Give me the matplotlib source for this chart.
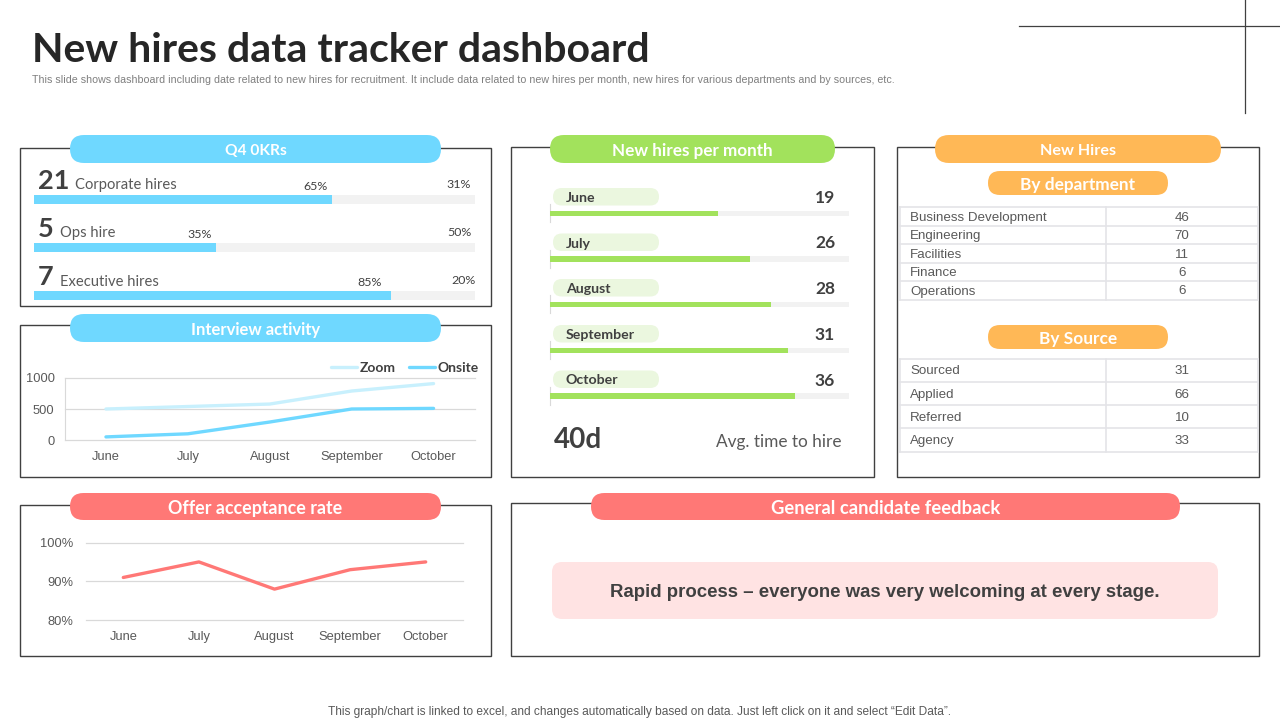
import matplotlib
matplotlib.use("Agg")
import matplotlib.pyplot as plt
from matplotlib.patches import FancyBboxPatch, Rectangle

W, H = 1280, 720
BODY = ["Liberation Sans", "DejaVu Sans"]
HEAD = ["Lato", "DejaVu Sans"]
DARK = "#404040"
BLUE, GREEN, ORANGE, RED = "#6FD8FF", "#A2E25C", "#FFB856", "#FF7876"

# ---------- data ----------
months = ["June", "July", "August", "September", "October"]
okr_counts = [21, 5, 7]
okr_names = ["Corporate hires", "Ops hire", "Executive hires"]
okr_fill = [67.6, 41.3, 81.0]
okr_labels = ["65%", "35%", "85%"]
okr_right = ["31%", "50%", "20%"]
zoom_vals = [500, 540, 580, 790, 910]
onsite_vals = [50, 100, 290, 500, 510]
offer_rate = [91, 95, 88, 93, 95]
month_hires = [19, 26, 28, 31, 36]
month_fill = [56.2, 66.9, 74.0, 79.6, 82.0]
dept_names = ["Business Development", "Engineering", "Facilities", "Finance", "Operations"]
dept_vals = [46, 70, 11, 6, 6]
source_names = ["Sourced", "Applied", "Referred", "Agency"]
source_vals = [31, 66, 10, 33]

fig = plt.figure(figsize=(W / 100, H / 100), dpi=100, facecolor="white")
bg = fig.add_axes([0, 0, 1, 1])
bg.set_xlim(0, W)
bg.set_ylim(H, 0)
bg.axis("off")


def px_axes(x0, y0, x1, y1):
    ax = fig.add_axes([x0 / W, 1 - y1 / H, (x1 - x0) / W, (y1 - y0) / H])
    ax.patch.set_alpha(0)
    return ax


def panel(x0, y0, x1, y1):
    bg.add_patch(Rectangle((x0 - 0.5, y0 - 0.5), x1 - x0, y1 - y0, fc="white", ec="#404040", lw=1.0, zorder=1))


def pill(x0, y0, x1, y1, color, label=None, size=12, zorder=3):
    h = y1 - y0
    bg.add_patch(FancyBboxPatch((x0, y0), x1 - x0, h, boxstyle=f"round,pad=0,rounding_size={h/2}",
                                fc=color, ec="none", zorder=zorder))
    if label:
        bg.text((x0 + x1) / 2, (y0 + y1) / 2 + 0.5, label, color="white", fontsize=size, fontweight="bold",
                family=HEAD, ha="center", va="center_baseline", zorder=zorder + 1)


# ---------- slide text and corner decoration ----------
bg.text(32, 47, "New hires data tracker dashboard", fontsize=29.5, fontweight="bold", color="#262626",
        family=HEAD, ha="left", va="center_baseline")
bg.text(32, 79, "This slide shows dashboard including date related to new hires for recruitment. It include data "
        "related to new hires per month, new hires for various departments and by sources, etc.",
        fontsize=7.62, color="#7F7F7F", family=BODY, ha="left", va="center_baseline")
bg.text(640, 711, "This graph/chart is linked to excel, and changes automatically based on data. Just left click "
        "on it and select \u201cEdit Data\u201d.", fontsize=8.59, color="#595959", family=BODY,
        ha="center", va="center_baseline")
bg.plot([1019, 1280], [26, 26], color="#404040", lw=0.9)
bg.plot([1245, 1245], [0, 113], color="#404040", lw=0.9)

# ---------- panels ----------
panel(20.5, 148, 491, 306.5)
panel(20.5, 325.5, 491, 477)
panel(511.5, 147.5, 874.5, 477.5)
panel(897.5, 147.5, 1259.5, 477.5)
panel(20.5, 505, 491, 656.5)
panel(511.5, 503.5, 1259.5, 656.5)

pill(70, 135, 441, 163, BLUE, "Q4 0KRs", 11.2)
pill(70, 314, 441, 342, BLUE, "Interview activity", 12)
pill(550, 135, 835, 163, GREEN, "New hires per month", 12.3)
pill(935, 135, 1221, 163, ORANGE, "New Hires", 11.6)
pill(988, 171, 1168, 195, ORANGE, "By department", 12.4)
pill(988, 325, 1168, 349, ORANGE, "By Source", 12.4)
pill(70, 493, 441, 520, RED, "Offer acceptance rate", 12.9)
pill(591, 493, 1180, 520, RED, "General candidate feedback", 13.2)

# ---------- Q4 OKRs ----------
okr_ax = px_axes(34, 171, 475, 304)
okr_ax.set_xlim(0, 100)
okr_ax.set_ylim(304, 171)
okr_ax.axis("off")
okr_y = [199.5, 247.5, 295.5]
okr_name_x = [75, 60, 60]
okr_label_x = [316, 200, 370]
okr_right_x = [459, 459, 463]
okr_ax.barh(okr_y, [100] * 3, height=9, color="#F2F2F2")
okr_ax.barh(okr_y, okr_fill, height=9, color=BLUE)
for i, y in enumerate(okr_y):
    bg.text(38, y - 20.5, str(okr_counts[i]), fontsize=19.5, fontweight="bold", color=DARK, family=HEAD,
            ha="left", va="center_baseline", zorder=5)
    bg.text(okr_name_x[i], y - 15.5, okr_names[i], fontsize=10.6, color="#595959", family=HEAD,
            ha="left", va="center_baseline", zorder=5)
    bg.text(okr_label_x[i], y - 14, okr_labels[i], fontsize=8.9, color=DARK, family=HEAD,
            ha="center", va="center_baseline", zorder=5)
    bg.text(okr_right_x[i], y - 15.5, okr_right[i], fontsize=8.9, color=DARK, family=HEAD,
            ha="center", va="center_baseline", zorder=5)


def style_line_axes(ax, left_spine):
    for s in ax.spines.values():
        s.set_visible(False)
    ax.grid(axis="y", color="#D9D9D9", lw=0.9)
    for g in ax.get_ygridlines():
        g.set_clip_on(False)
    ax.set_axisbelow(True)
    ax.tick_params(length=0, labelcolor="#595959")
    if left_spine:
        ax.spines["left"].set_visible(True)
        ax.spines["left"].set_color("#D9D9D9")
    for t in ax.get_xticklabels() + ax.get_yticklabels():
        t.set_family(BODY)
        t.set_fontsize(9.3)


# ---------- Interview activity ----------
iv = px_axes(65, 378, 474.5, 440)
iv.plot(range(5), zoom_vals, color="#C8F0FD", lw=2.4, label="Zoom", solid_capstyle="round")
iv.plot(range(5), onsite_vals, color=BLUE, lw=2.4, label="Onsite", solid_capstyle="round")
iv.set_xlim(-0.5, 4.5)
iv.set_ylim(0, 1000)
iv.set_xticks(range(5), months)
iv.set_yticks([0, 500, 1000])
style_line_axes(iv, True)
iv.tick_params(axis="x", pad=8)
iv.tick_params(axis="y", pad=7.5)
leg = iv.legend(loc="lower right", bbox_to_anchor=(479, 374), bbox_transform=bg.transData, ncol=2,
                frameon=False, handlelength=1.87, handletextpad=0.2, columnspacing=0.93, borderpad=0,
                borderaxespad=0, prop={"family": HEAD, "weight": "bold", "size": 10})
for t in leg.get_texts():
    t.set_color(DARK)

# ---------- Offer acceptance rate ----------
of = px_axes(85.5, 542.5, 463.5, 620.2)
of.plot(range(5), offer_rate, color=RED, lw=2.4, solid_capstyle="round")
of.set_xlim(-0.5, 4.5)
of.set_ylim(80, 100)
of.set_xticks(range(5), months)
of.set_yticks([80, 90, 100], ["80%", "90%", "100%"])
style_line_axes(of, False)
of.tick_params(axis="x", pad=7.5)
of.tick_params(axis="y", pad=8.5)

# ---------- New hires per month ----------
mh = px_axes(550, 185, 848.5, 405)
mh.set_xlim(0, 100)
mh.set_ylim(405, 185)
mh.axis("off")
bar_y = [213.5, 259, 304.5, 350.5, 396]
mh.barh(bar_y, [100] * 5, height=5.5, color="#F2F2F2")
mh.barh(bar_y, month_fill, height=5.5, color=GREEN)
for i, y in enumerate(bar_y):
    bg.plot([550, 550], [y - 9.5, y + 8.5], color="#D9D9D9", lw=0.8, zorder=2)
    pill(553, y - 25.5, 659, y - 8, "#EBF7DF", zorder=3)
    bg.text(566, y - 16.5, months[i], fontsize=10.2, fontweight="bold", color=DARK, family=HEAD,
            ha="left", va="center_baseline", zorder=5)
    bg.text(825, y - 17, str(month_hires[i]), fontsize=12.5, fontweight="bold", color=DARK, family=HEAD,
            ha="center", va="center_baseline", zorder=5)
bg.text(554, 437, "40d", fontsize=20, fontweight="bold", color=DARK, family=HEAD,
        ha="left", va="center_baseline", zorder=5)
bg.text(716, 440, "Avg. time to hire", fontsize=12.4, color="#595959", family=HEAD,
        ha="left", va="center_baseline", zorder=5)


# ---------- tables ----------
def table(rows, names, vals):
    x0, xm, x1 = 899.5, 1106, 1258
    for y in rows:
        bg.plot([x0, x1], [y, y], color="#E4E4E8", lw=1.2, zorder=2)
    for x in (x0, xm, x1):
        bg.plot([x, x], [rows[0], rows[-1]], color="#E4E4E8", lw=1.2, zorder=2)
    for i, (n, v) in enumerate(zip(names, vals)):
        yc = (rows[i] + rows[i + 1]) / 2
        bg.text(910, yc, n, fontsize=9.6, color="#595959", family=BODY, ha="left", va="center_baseline", zorder=5)
        bg.text(1182, yc, str(v), fontsize=9.6, color="#595959", family=BODY, ha="center", va="center_baseline", zorder=5)


table([207, 225.5, 244, 262.5, 280.5, 299.5], dept_names, dept_vals)
table([358.5, 381.5, 405, 428, 451.5], source_names, source_vals)

# ---------- feedback ----------
bg.add_patch(FancyBboxPatch((552, 562), 666, 57, boxstyle="round,pad=0,rounding_size=10",
                            fc="#FFE3E3", ec="none", zorder=3))
bg.text(885, 590.5, "Rapid process \u2013 everyone was very welcoming at every stage.", fontsize=13.4,
        fontweight="bold", color=DARK, family=BODY, ha="center", va="center_baseline", zorder=5)

fig.savefig("out.png", dpi=100)
